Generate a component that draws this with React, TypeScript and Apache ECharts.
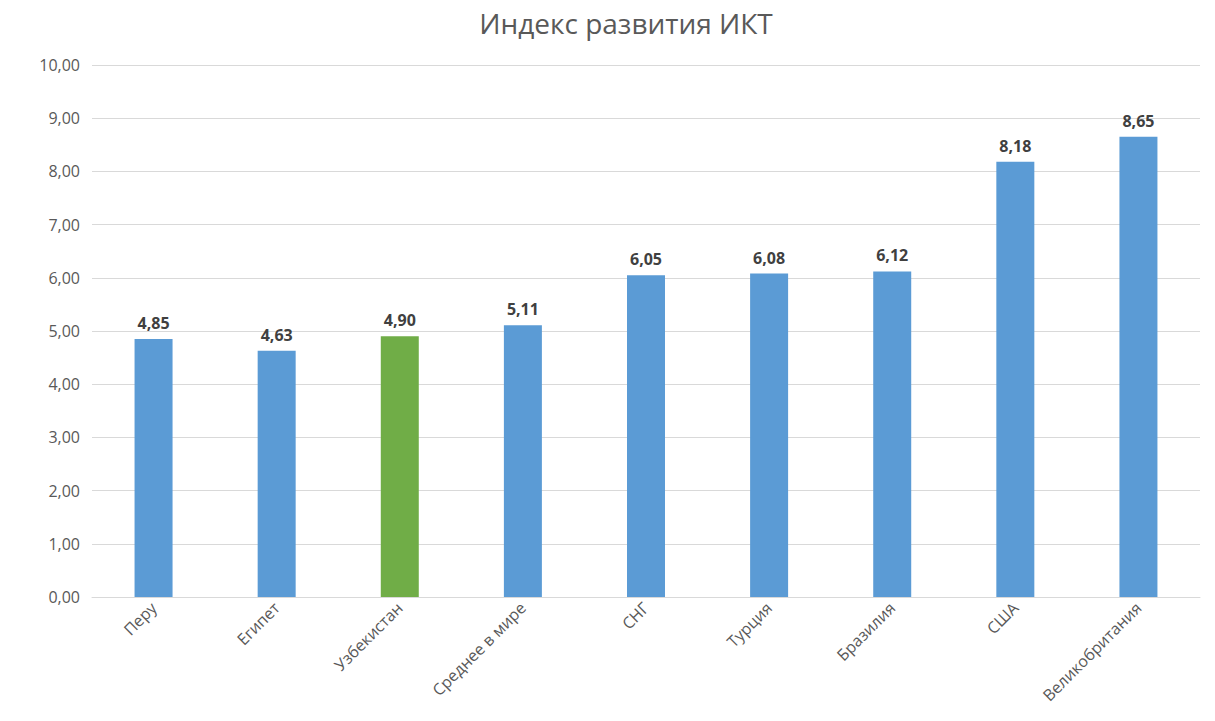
import React, { useEffect, useRef } from "react";
import * as echarts from "echarts";

const categories = ["Перу", "Египет", "Узбекистан", "Среднее в мире", "СНГ", "Турция", "Бразилия", "США", "Великобритания"];
const values = [4.85, 4.63, 4.9, 5.11, 6.05, 6.08, 6.12, 8.18, 8.65];
const highlighted = ["Узбекистан"];
const title = "Индекс развития ИКТ";

const fmt = (v: number) => v.toFixed(2).replace(".", ",");

export default function App() {
  const ref = useRef<HTMLDivElement>(null);
  useEffect(() => {
    if (!ref.current) return;
    const chart = echarts.init(ref.current, undefined, { renderer: "svg" });
    const font = "Open Sans";
    chart.setOption({
      animation: false,
      backgroundColor: "#ffffff",
      title: {
        text: title,
        left: 621,
        top: 4,
        textAlign: "center",
        textStyle: { fontFamily: font, fontSize: 28, fontWeight: "normal", color: "#595959" },
      },
      grid: { left: 92, right: 15, top: 65, bottom: 124, containLabel: false },
      xAxis: {
        type: "category",
        data: categories,
        axisLine: { lineStyle: { color: "#d9d9d9" } },
        axisTick: { show: false },
        axisLabel: {
          rotate: 45,
          interval: 0,
          margin: 8,
          fontFamily: font,
          fontSize: 16,
          color: "#595959",
        },
      },
      yAxis: {
        type: "value",
        min: 0,
        max: 10,
        interval: 1,
        axisLine: { show: false },
        axisTick: { show: false },
        splitLine: { lineStyle: { color: "#d9d9d9" } },
        axisLabel: {
          formatter: (v: number) => fmt(v),
          fontFamily: font,
          fontSize: 16,
          color: "#595959",
          margin: 12,
        },
      },
      series: [
        {
          type: "bar",
          barWidth: 38,
          data: categories.map((c, i) => ({
            value: values[i],
            itemStyle: { color: highlighted.includes(c) ? "#70AD47" : "#5B9BD5" },
          })),
          label: {
            show: true,
            position: "top",
            distance: 8,
            formatter: (p: any) => fmt(p.value),
            fontFamily: font,
            fontSize: 16,
            fontWeight: "bold",
            color: "#404040",
          },
        },
      ],
    });
    return () => chart.dispose();
  }, []);
  return (
    <div
      ref={ref}
      style={{ position: "absolute", left: 0, top: 0, width: 1215, height: 721 }}
    />
  );
}
